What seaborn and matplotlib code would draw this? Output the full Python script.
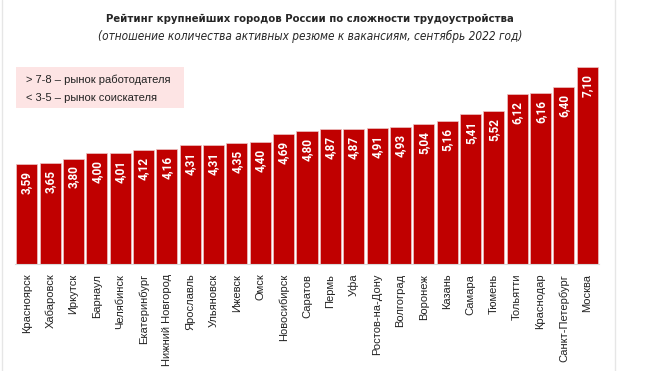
import matplotlib
matplotlib.use('Agg')
import matplotlib.pyplot as plt
from matplotlib.lines import Line2D
from matplotlib.patches import Rectangle
import seaborn as sns
import numpy as np

# Data
cities = ['Красноярск', 'Хабаровск', 'Иркутск', 'Барнаул', 'Челябинск',
          'Екатеринбург', 'Нижний Новгород', 'Ярославль', 'Ульяновск', 'Ижевск',
          'Омск', 'Новосибирск', 'Саратов', 'Пермь', 'Уфа', 'Ростов-на-Дону',
          'Волгоград', 'Воронеж', 'Казань', 'Самара', 'Тюмень', 'Тольятти',
          'Краснодар', 'Санкт-Петербург', 'Москва']
ratio = [3.59, 3.65, 3.80, 4.00, 4.01, 4.12, 4.16, 4.31, 4.31, 4.35,
         4.40, 4.69, 4.80, 4.87, 4.87, 4.91, 4.93, 5.04, 5.16, 5.41,
         5.52, 6.12, 6.16, 6.40, 7.10]
legend_lines = ['> 7-8 – рынок работодателя', '< 3-5 – рынок соискателя']
title = 'Рейтинг крупнейших городов России по сложности трудоустройства'
subtitle = '(отношение количества активных резюме к вакансиям, сентябрь 2022 год)'

sns.set_style('white')
plt.rcParams['font.family'] = ['Liberation Sans', 'DejaVu Sans']

fig = plt.figure(figsize=(6.48, 3.71), dpi=100)
ax = fig.add_axes([15 / 648, 1 - 264 / 371, 584 / 648, 204 / 371])
ax.patch.set_alpha(0)

sns.barplot(x=cities, y=ratio, color='#c00000', saturation=1, width=0.9,
            edgecolor='#ecc4c4', linewidth=0.5, ax=ax)
ax.set_ylim(0, 7.36)
ax.set_xlim(-0.5, len(cities) - 0.5)
ax.set_xlabel('')
ax.set_ylabel('')
ax.set_yticks([])

for s in ['top', 'right', 'left']:
    ax.spines[s].set_visible(False)
ax.spines['bottom'].set_color('#d9d9d9')
ax.spines['bottom'].set_linewidth(0.8)

ax.tick_params(axis='x', which='major', length=0, pad=7, labelsize=8,
               labelcolor='#222222', rotation=90)
ax.set_xticks(np.arange(-0.5, len(cities)), minor=True)
ax.tick_params(axis='x', which='minor', length=4, color='#d9d9d9', width=0.8)

for i, v in enumerate(ratio):
    ax.annotate(f'{v:.2f}'.replace('.', ','), xy=(i, v), xytext=(0, -5),
                textcoords='offset points', rotation=90, ha='center', va='top',
                color='white', fontsize=8.5, fontweight='bold',
                family=['Roboto', 'DejaVu Sans'])

fig.text(310 / 648, 1 - 19 / 371, title, ha='center', va='center', fontsize=8.1,
         fontweight='bold', fontstretch='condensed', family=['DejaVu Sans'])
fig.text(310 / 648, 1 - 36 / 371, subtitle, ha='center', va='center', fontsize=8.5,
         style='italic', fontstretch='condensed', family=['DejaVu Sans'])

# pink note box
fig.add_artist(Rectangle((16 / 648, 1 - 108 / 371), 168 / 648, 41 / 371,
                         transform=fig.transFigure, facecolor='#fde4e4',
                         edgecolor='none', zorder=0))
for k, line in enumerate(legend_lines):
    fig.text(26 / 648, 1 - (80 + 18 * k) / 371, line, ha='left', va='center',
             fontsize=8, color='#222222')

# thin frame lines on the sides
for xpx in [2, 615]:
    fig.add_artist(Line2D([xpx / 648, xpx / 648], [0, 1], color='#e6e6e6',
                          lw=1, transform=fig.transFigure))

fig.savefig('out.png', dpi=100)
